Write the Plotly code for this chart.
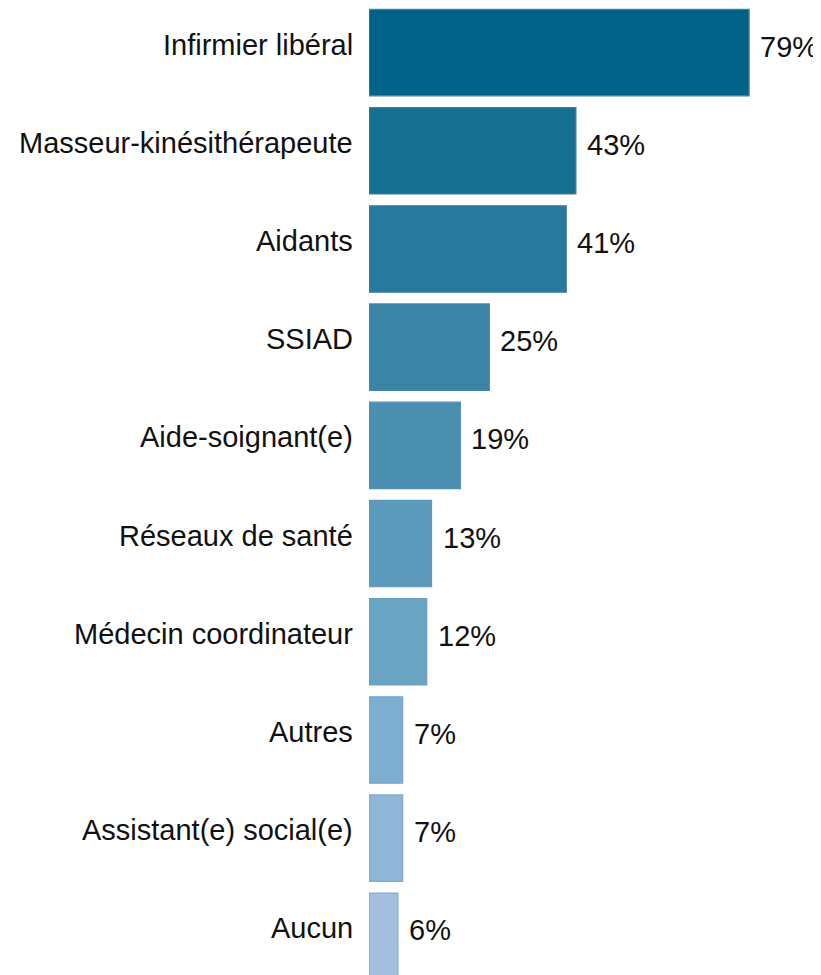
import plotly.graph_objects as go

categories = ["Infirmier libéral", "Masseur-kinésithérapeute", "Aidants", "SSIAD",
              "Aide-soignant(e)", "Réseaux de santé", "Médecin coordinateur",
              "Autres", "Assistant(e) social(e)", "Aucun"]
values = [79, 43, 41, 25, 19, 13, 12, 7, 7, 6]
value_labels = ["79%", "43%", "41%", "25%", "19%", "13%", "12%", "7%", "7%", "6%"]

colors = ["#006288", "#156f91", "#277a9b", "#3a85a6", "#4b8fb0",
          "#5b9aba", "#6aa4c3", "#7caecf", "#8fb5d7", "#a3c0de"]
borders = ["#4d7f9f", "#3f7c9c", "#3d7fa0", "#4888ab", "#5690b4",
           "#6197ba", "#6e9fc4", "#79a6cf", "#80aad4", "#7eaad6"]

font_name = "Liberation Sans Narrow, Liberation Sans, Arial, sans-serif"

fig = go.Figure()
fig.add_trace(go.Bar(
    x=values, y=categories, orientation="h",
    marker=dict(color=colors, line=dict(color=borders, width=1.2)),
    hoverinfo="skip",
))

# category labels to the left of the bars
for cat in categories:
    fig.add_annotation(x=0, y=cat, xref="paper", yref="y", text=cat,
                       showarrow=False, xanchor="right", yanchor="middle",
                       xshift=-14, yshift=8,
                       font=dict(family=font_name, size=29, color="#111111"))

# value labels after each bar
for cat, v, lab in zip(categories, values, value_labels):
    fig.add_annotation(x=v, y=cat, xref="x", yref="y", text=lab,
                       showarrow=False, xanchor="left", yanchor="middle",
                       xshift=9, yshift=6,
                       font=dict(family=font_name, size=29, color="#111111"))

fig.update_layout(
    width=821, height=975,
    margin=dict(l=361, r=0, t=0, b=0),
    plot_bgcolor="white", paper_bgcolor="white",
    bargap=0.12,
    showlegend=False,
    xaxis=dict(range=[0, 95.6], visible=False, fixedrange=True),
    yaxis=dict(categoryorder="array", categoryarray=categories,
               range=[9.475, -0.454], showticklabels=False,
               showgrid=False, zeroline=False, showline=False, ticks=""),
)

fig.write_html("out.html")
